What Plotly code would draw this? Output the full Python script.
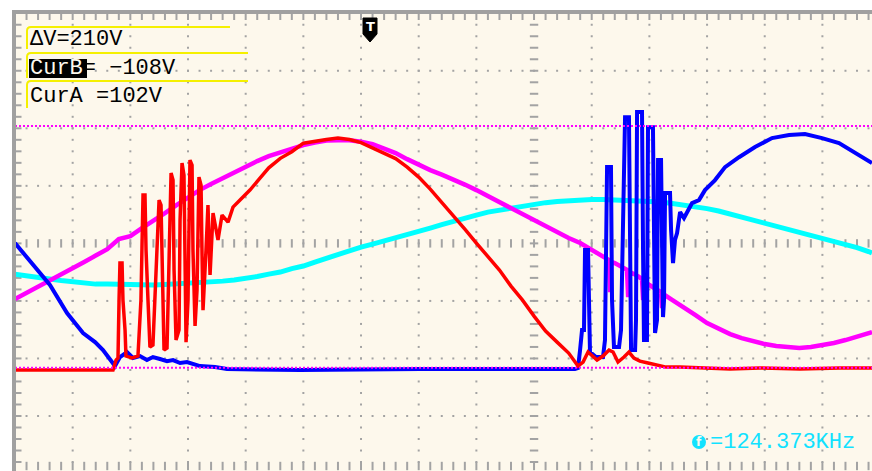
import plotly.graph_objects as go

# Scope settings: 0.5 us/div horizontally, 50 V/div vertically, 0 V on the centre row
T_PER_DIV = 0.5
V_PER_DIV = 50.0
T_MAX = 7.43
V_TOP, V_BOTTOM = 200.2, -197.8

# Regular sample clock used by the two slow channels (us)
sample_t = [round(0.1 * k, 1) for k in range(75)] + [7.43]

# Cyan channel (V)
cyan_v = [-26.7, -28.4, -29.7, -31.0, -32.3, -33.6, -34.5, -35.4, -35.4, -35.8,
          -36.2, -36.2, -36.2, -35.8, -35.4, -34.9, -34.5, -34.1, -32.8, -31.9,
          -30.6, -28.8, -26.7, -24.9, -21.9, -19.7, -16.2, -12.8, -9.7, -6.7,
          -3.2, -0.6, 2.0, 4.6, 7.6, 10.7, 13.3, 16.3, 19.4, 22.0,
          24.6, 27.2, 28.9, 30.7, 32.4, 34.1, 35.4, 36.3, 37.2, 37.6,
          38.1, 38.1, 37.6, 37.6, 37.2, 36.7, 35.9, 34.6, 33.3, 32.0,
          30.2, 28.1, 25.5, 22.8, 20.2, 17.6, 14.6, 12.0, 9.4, 6.3,
          3.7, 1.6, -1.0, -3.6, -7.1, -8.4]

# Magenta channel (us, V) - includes the coupling glitches during the blue burst
magenta_t = [0.0, 0.1, 0.2, 0.3, 0.4, 0.5, 0.6, 0.7, 0.8, 0.9,
             1.0, 1.1, 1.2, 1.3, 1.4, 1.5, 1.6, 1.7, 1.8, 1.9,
             2.0, 2.1, 2.2, 2.3, 2.4, 2.5, 2.6, 2.7, 2.8, 2.9,
             3.0, 3.1, 3.2, 3.3, 3.4, 3.5, 3.6, 3.7, 3.8, 3.9,
             4.0, 4.1, 4.2, 4.3, 4.4, 4.5, 4.6, 4.7, 4.8, 4.9,
             5.0, 5.1, 5.15, 5.16, 5.17, 5.2, 5.3, 5.306, 5.316, 5.326,
             5.4, 5.436, 5.446, 5.456, 5.5, 5.6, 5.61, 5.62, 5.7, 5.8,
             5.9, 6.0, 6.1, 6.2, 6.3, 6.4, 6.5, 6.6, 6.7, 6.8,
             6.9, 7.0, 7.1, 7.2, 7.3, 7.4, 7.43]
magenta_v = [-48.4, -43.2, -38.0, -32.3, -26.7, -21.5, -16.2, -10.6, -5.0, 3.7,
             6.3, 13.3, 19.4, 26.3, 33.3, 40.2, 46.3, 51.5, 56.7, 61.9,
             67.1, 71.5, 75.8, 79.3, 82.8, 85.4, 87.6, 89.3, 89.7, 89.7,
             88.4, 86.3, 82.4, 78.5, 73.2, 68.0, 63.7, 59.8, 55.9, 51.1,
             46.3, 41.1, 35.9, 30.7, 25.5, 19.8, 14.6, 9.8, 4.6, 0.3,
             -5.8, -11.9, -14.5, -42.3, -16.2, -17.1, -22.3, -23.0, -46.7, -24.5,
             -28.4, -31.0, -49.3, -33.0, -36.2, -42.3, -56.2, -44.0, -49.3, -55.3,
             -62.3, -69.2, -74.5, -78.8, -82.3, -85.3, -87.5, -89.2, -90.5, -91.0,
             -90.1, -88.8, -86.6, -84.0, -81.4, -78.4, -77.1]

# Red channel (us, V)
red_t = [0.000, 0.850, 0.876, 0.893, 0.902, 0.910, 0.928, 0.936, 0.954, 0.962,
         1.014, 1.066, 1.092, 1.110, 1.127, 1.136, 1.153, 1.170, 1.196, 1.222,
         1.249, 1.266, 1.275, 1.292, 1.318, 1.335, 1.353, 1.370, 1.379, 1.396,
         1.422, 1.431, 1.448, 1.465, 1.474, 1.483, 1.500, 1.517, 1.535, 1.543,
         1.561, 1.578, 1.595, 1.613, 1.621, 1.630, 1.656, 1.673, 1.691, 1.717,
         1.760, 1.795, 1.847, 1.890, 1.951, 2.037, 2.124, 2.2, 2.3, 2.4,
         2.5, 2.6, 2.7, 2.8, 2.9, 3.0, 3.1, 3.2, 3.3, 3.4,
         3.5, 3.6, 3.7, 3.8, 3.9, 4.0, 4.1, 4.2, 4.3, 4.4,
         4.5, 4.6, 4.7, 4.8, 4.881, 4.925, 4.968, 5.003, 5.046, 5.098,
         5.150, 5.185, 5.228, 5.280, 5.323, 5.366, 5.418, 5.488, 5.558, 5.645,
         5.766, 5.939, 6.199, 6.459, 6.806, 7.153, 7.43]
red_v = [-110.1, -110.1, -101.4, -99.6, -49.3, -17.1, -17.1, -49.3, -75.3, -97.9,
         -99.6, -97.9, -49.3, 42.0, 42.0, -5.8, -49.3, -90.1, -88.4, -31.9,
         37.6, 33.3, -14.5, -92.7, -91.0, -5.8, 61.1, 55.0, -23.1, -84.0,
         -75.3, 20.3, 69.8, 59.3, -31.9, -85.8, -49.3, 72.4, 68.1, -5.8,
         -71.8, -40.6, 57.6, 50.6, -5.8, -58.0, -5.8, 33.3, -27.5, 26.3,
         2.9, 24.6, 18.5, 31.5, 37.6, 46.3, 56.7, 65.7, 73.9, 79.7,
         87.1, 88.9, 90.2, 91.5, 90.2, 87.6, 83.2, 78.5, 73.7, 66.3,
         57.6, 47.2, 35.9, 23.7, 12.4, 0.3, -11.0, -23.2, -37.1, -49.3,
         -63.2, -76.2, -85.8, -95.3, -106.6, -103.1, -94.4, -97.9, -101.4, -97.9,
         -92.7, -94.4, -103.1, -98.8, -94.4, -99.6, -102.3, -104.0, -105.7, -107.5,
         -107.5, -108.3, -109.2, -108.3, -109.2, -108.3, -108.3]

# Blue channel (us, V)
blue_t = [0.000, 0.087, 0.217, 0.303, 0.451, 0.590, 0.694, 0.763, 0.841, 0.867,
          0.910, 0.971, 1.023, 1.084, 1.144, 1.196, 1.257, 1.318, 1.370, 1.431,
          1.491, 1.561, 1.604, 1.734, 1.838, 2.471, 3.511, 4.855, 4.881, 4.899,
          4.916, 4.933, 4.942, 4.968, 4.977, 4.985, 5.037, 5.098, 5.115, 5.133,
          5.167, 5.176, 5.193, 5.237, 5.254, 5.289, 5.323, 5.332, 5.341, 5.376,
          5.384, 5.393, 5.436, 5.445, 5.453, 5.479, 5.488, 5.531, 5.540, 5.549,
          5.566, 5.575, 5.601, 5.610, 5.618, 5.627, 5.636, 5.679, 5.688, 5.705,
          5.722, 5.740, 5.766, 5.800, 5.826, 5.870, 5.930, 5.982, 6.069, 6.156,
          6.277, 6.416, 6.563, 6.711, 6.849, 6.997, 7.144, 7.283, 7.430]
blue_v = [0.3, -10.2, -24.9, -36.2, -60.6, -77.9, -85.8, -92.7, -103.1, -106.6,
          -98.8, -94.4, -99.6, -97.9, -101.4, -98.8, -100.5, -102.3, -101.4, -104.0,
          -103.1, -104.9, -106.6, -107.5, -109.2, -110.1, -109.2, -109.2, -108.3, -92.7,
          -75.3, -75.3, -5.8, -5.8, -68.4, -94.4, -98.8, -98.8, -84.0, 66.3,
          66.3, -49.3, -90.1, -90.1, -75.3, 109.7, 109.7, -5.8, -92.7, -92.7,
          -66.6, 114.1, 114.1, -5.8, -84.0, -84.0, 101.0, 101.0, -5.8, -77.9,
          -66.6, 72.4, 72.4, -5.8, -64.0, -49.3, 43.7, 43.7, 11.6, -17.1,
          2.9, 8.9, 27.2, 22.0, 26.3, 35.0, 37.6, 46.3, 55.0, 66.3,
          74.9, 83.7, 91.5, 94.1, 95.0, 91.5, 87.1, 78.5, 69.8]

# Cursor readouts
cursor_a_v = 102
cursor_b_v = -108
delta_v = cursor_a_v - cursor_b_v
freq_khz = 124.373

# ---------------------------------------------------------------- geometry
W, H = 872, 471
ML, MT = 15, 13
PW, PH = W - ML, H - MT


def fx(xp):
    return (xp - ML) / PW


def fy(yp):
    return 1 - (yp - MT) / PH


def tx(xp):
    return (xp - ML) / PW * T_MAX


def vy(yp):
    return V_TOP - (yp - MT) / PH * (V_TOP - V_BOTTOM)


GRID = "#a3a3a3"
BG = "#fdf8ec"

fig = go.Figure()

# graticule dots on the major lines
n_cols = int(T_MAX / T_PER_DIV)
dot_t, dot_v = [], []
for i in range(1, n_cols + 1):
    if i == 9:
        continue
    for j in range(-19, 20):
        dot_t.append(i * T_PER_DIV)
        dot_v.append(j * V_PER_DIV / 5)
for r in (-3, -2, -1, 1, 2, 3):
    for k in range(1, 75):
        dot_t.append(k * T_PER_DIV / 5)
        dot_v.append(r * V_PER_DIV)
fig.add_trace(go.Scatter(x=dot_t, y=dot_v, mode="markers", hoverinfo="skip",
                         marker=dict(symbol="square", size=2, color=GRID)))

# centre axes with minor tick dashes
fig.add_trace(go.Scatter(x=[k * T_PER_DIV / 5 for k in range(1, 75)], y=[0] * 74,
                         mode="markers", hoverinfo="skip",
                         marker=dict(symbol="line-ns", size=6,
                                     line=dict(width=2, color=GRID))))
fig.add_trace(go.Scatter(x=[9 * T_PER_DIV] * 39, y=[j * V_PER_DIV / 5 for j in range(-19, 20)],
                         mode="markers", hoverinfo="skip",
                         marker=dict(symbol="line-ew", size=6,
                                     line=dict(width=2, color=GRID))))

# ticks along the frame edges
edge_t = [k * T_PER_DIV / 5 for k in range(1, 75)]
fig.add_trace(go.Scatter(x=edge_t, y=[vy(16.5)] * len(edge_t), mode="markers", hoverinfo="skip",
                         marker=dict(symbol="line-ns", size=5, line=dict(width=2, color=GRID))))
fig.add_trace(go.Scatter(x=edge_t, y=[vy(466)] * len(edge_t), mode="markers", hoverinfo="skip",
                         marker=dict(symbol="line-ns", size=6, line=dict(width=2, color=GRID))))
edge_v = [j * V_PER_DIV / 5 for j in range(-19, 20)]
fig.add_trace(go.Scatter(x=[tx(18)] * len(edge_v), y=edge_v, mode="markers", hoverinfo="skip",
                         marker=dict(symbol="line-ew", size=5, line=dict(width=2, color=GRID))))

# waveforms
fig.add_trace(go.Scatter(x=sample_t, y=cyan_v, mode="lines", name="CH3",
                         line=dict(color="#00ffff", width=5)))
fig.add_trace(go.Scatter(x=magenta_t, y=magenta_v, mode="lines", name="CH4",
                         line=dict(color="#ff00ff", width=4.5)))
fig.add_trace(go.Scatter(x=blue_t, y=blue_v, mode="lines", name="CH2",
                         line=dict(color="#0000ff", width=4)))
fig.add_trace(go.Scatter(x=red_t, y=red_v, mode="lines", name="CH1",
                         line=dict(color="#ff0000", width=3.5)))

# voltage cursors
for cv in (cursor_a_v, cursor_b_v):
    fig.add_trace(go.Scatter(x=[0, T_MAX], y=[cv, cv], mode="lines", hoverinfo="skip",
                             line=dict(color="#ff00ff", width=2, dash="2px,2px")))

shapes = [
    # frame bars
    dict(type="rect", xref="paper", yref="paper", x0=fx(12), x1=fx(16), y0=fy(H), y1=fy(10),
         fillcolor="#a0a0a0", line=dict(width=0), layer="above"),
    dict(type="rect", xref="paper", yref="paper", x0=fx(12), x1=fx(W), y0=fy(14), y1=fy(10),
         fillcolor="#a0a0a0", line=dict(width=0), layer="above"),
    # highlighted cursor name
    dict(type="rect", xref="paper", yref="paper", x0=fx(29), x1=fx(87), y0=fy(78), y1=fy(59),
         fillcolor="#000000", line=dict(width=0), layer="above"),
]

# yellow readout brackets
for top, bottom, right in ((27, 49, 230), (53, 78, 248), (81, 108, 248)):
    path = (f"M {fx(27)},{fy(bottom)} L {fx(27)},{fy(top + 4)} "
            f"Q {fx(27)},{fy(top)} {fx(31)},{fy(top)} L {fx(right)},{fy(top)}")
    shapes.append(dict(type="path", xref="paper", yref="paper", path=path,
                       line=dict(color="#f5f000", width=2), layer="above"))

# trigger position marker
tpath = (f"M {fx(363)},{fy(18)} L {fx(377)},{fy(18)} L {fx(377)},{fy(34)} "
         f"L {fx(370)},{fy(42)} L {fx(363)},{fy(34)} Z")
shapes.append(dict(type="path", xref="paper", yref="paper", path=tpath,
                   fillcolor="#000000", line=dict(color="#000000", width=1), layer="above"))

# frequency icon
shapes.append(dict(type="circle", xref="paper", yref="paper", x0=fx(692), x1=fx(706),
                   y0=fy(449), y1=fy(435), fillcolor="#12e2ff", line=dict(width=0), layer="above"))

MONO = "Liberation Mono"
annotations = [
    dict(x=fx(28), y=fy(40), text=f"ΔV={delta_v}V"),
    dict(x=fx(28), y=fy(68),
         text=f'<span style="color:{BG}">CurB</span>= −{abs(cursor_b_v)}V'),
    dict(x=fx(28), y=fy(96), text=f"CurA ={cursor_a_v}V"),
    dict(x=fx(708), y=fy(442), text=f"={freq_khz:.3f}KHz", font=dict(family=MONO, size=22, color="#12e2ff")),
    dict(x=fx(699), y=fy(442), text="<b>f</b>", xanchor="center",
         font=dict(family="DejaVu Sans", size=12, color=BG)),
    dict(x=fx(370), y=fy(26), text="<b>T</b>", xanchor="center",
         font=dict(family="DejaVu Sans", size=13, color="#ffffff")),
]
for a in annotations:
    a.setdefault("xanchor", "left")
    a.setdefault("font", dict(family=MONO, size=22, color="#000000"))
    a.update(xref="paper", yref="paper", yanchor="middle", showarrow=False)

fig.update_layout(
    width=W, height=H,
    margin=dict(l=ML, r=0, t=MT, b=0),
    paper_bgcolor="#ffffff",
    plot_bgcolor=BG,
    showlegend=False,
    xaxis=dict(range=[0, T_MAX], visible=False, fixedrange=True),
    yaxis=dict(range=[V_BOTTOM, V_TOP], visible=False, fixedrange=True),
    shapes=shapes,
    annotations=annotations,
)

fig.write_html("out.html")
